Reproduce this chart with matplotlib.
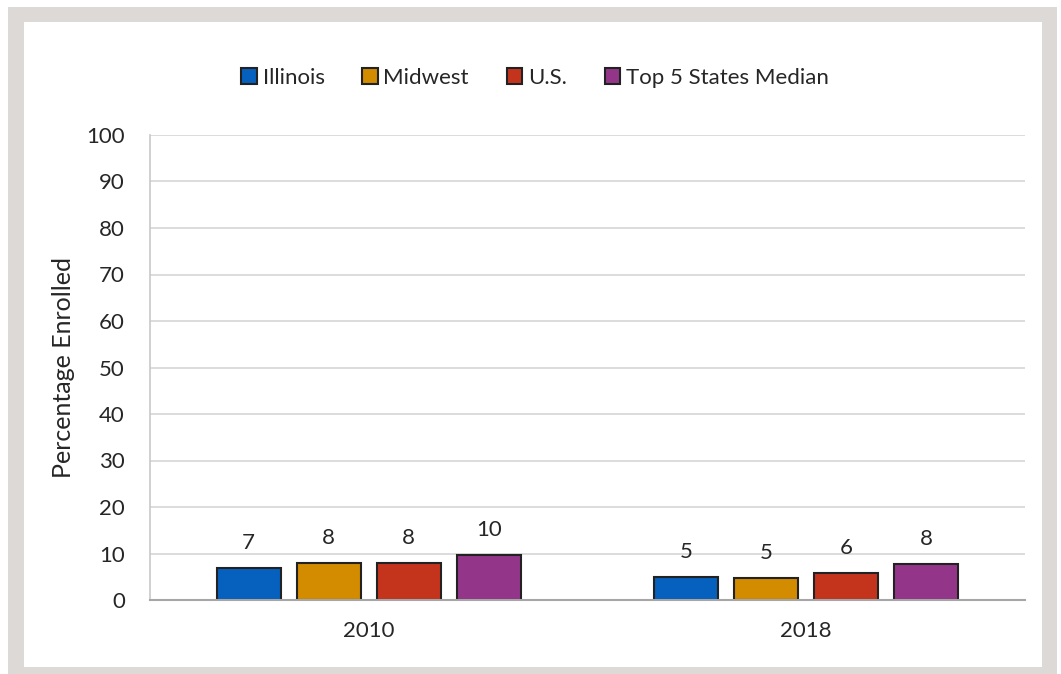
import numpy as np
import matplotlib.pyplot as plt
from matplotlib.patches import Rectangle

# data
years = ['2010', '2018']
series = ['Illinois', 'Midwest', 'U.S.', 'Top 5 States Median']
illinois = [6.9, 4.85]
midwest = [7.85, 4.7]
us = [7.85, 5.8]
top5 = [9.65, 7.7]
yticks = list(range(0, 101, 10))

colors = ['#0560BE', '#D38B00', '#C4341D', '#93368A']
txt = '#262626'

plt.rcParams['font.family'] = ['Lato', 'DejaVu Sans']

fig = plt.figure(figsize=(10.61, 6.74), dpi=100)
fig.patch.set_facecolor('white')

# grey frame around the chart
fig.patches.append(Rectangle((8 / 1061, 0), (1057 - 8) / 1061, 667 / 674,
                             transform=fig.transFigure, facecolor='#DCD9D6',
                             edgecolor='none', zorder=-2))
fig.patches.append(Rectangle((24 / 1061, 7 / 674), (1042 - 24) / 1061, (667 - 22) / 674,
                             transform=fig.transFigure, facecolor='white',
                             edgecolor='none', zorder=-1))

ax = fig.add_axes([150 / 1061, 74 / 674, 875 / 1061, 465 / 674])
ax.set_facecolor('none')

x = np.arange(len(years))
pitch = 0.183
width = 0.146
for i, (name, vals) in enumerate(zip(series, [illinois, midwest, us, top5])):
    pos = x + (i - 1.5) * pitch
    bars = ax.bar(pos, vals, width, color=colors[i], edgecolor='#222222',
                  linewidth=1.5, label=name, zorder=3)
    for b, v in zip(bars, vals):
        ax.annotate(f'{v:.0f}', (b.get_x() + b.get_width() / 2, v),
                    xytext=(0, 11), textcoords='offset points',
                    ha='center', va='bottom', fontsize=16, color=txt)

ax.set_xlim(-0.5, 1.5)
ax.set_ylim(0, 100)
ax.set_yticks(yticks)
ax.set_xticks(x, years)
ax.tick_params(axis='both', length=0, labelsize=16, labelcolor=txt)
ax.tick_params(axis='x', pad=15)
ax.tick_params(axis='y', pad=18)
ax.grid(axis='y', color='#D9D9D9', linewidth=1.3, zorder=0)
for s in ['top', 'right']:
    ax.spines[s].set_visible(False)
ax.spines['left'].set_color('#C8C8C8')
ax.spines['left'].set_linewidth(1.2)
ax.spines['bottom'].set_color('#A6A6A6')
ax.spines['bottom'].set_linewidth(1.5)
ax.spines['bottom'].set_zorder(4)

ax.set_ylabel('Percentage Enrolled', fontsize=18, color=txt, labelpad=8)

leg = fig.legend(loc='center', bbox_to_anchor=(535 / 1061, 1 - 78 / 674), ncol=4,
                 frameon=False, fontsize=16, handlelength=0.7, handleheight=0.7,
                 handletextpad=0.25, columnspacing=1.7, labelcolor=txt)

fig.savefig('out.png', dpi=100, facecolor=fig.get_facecolor())
